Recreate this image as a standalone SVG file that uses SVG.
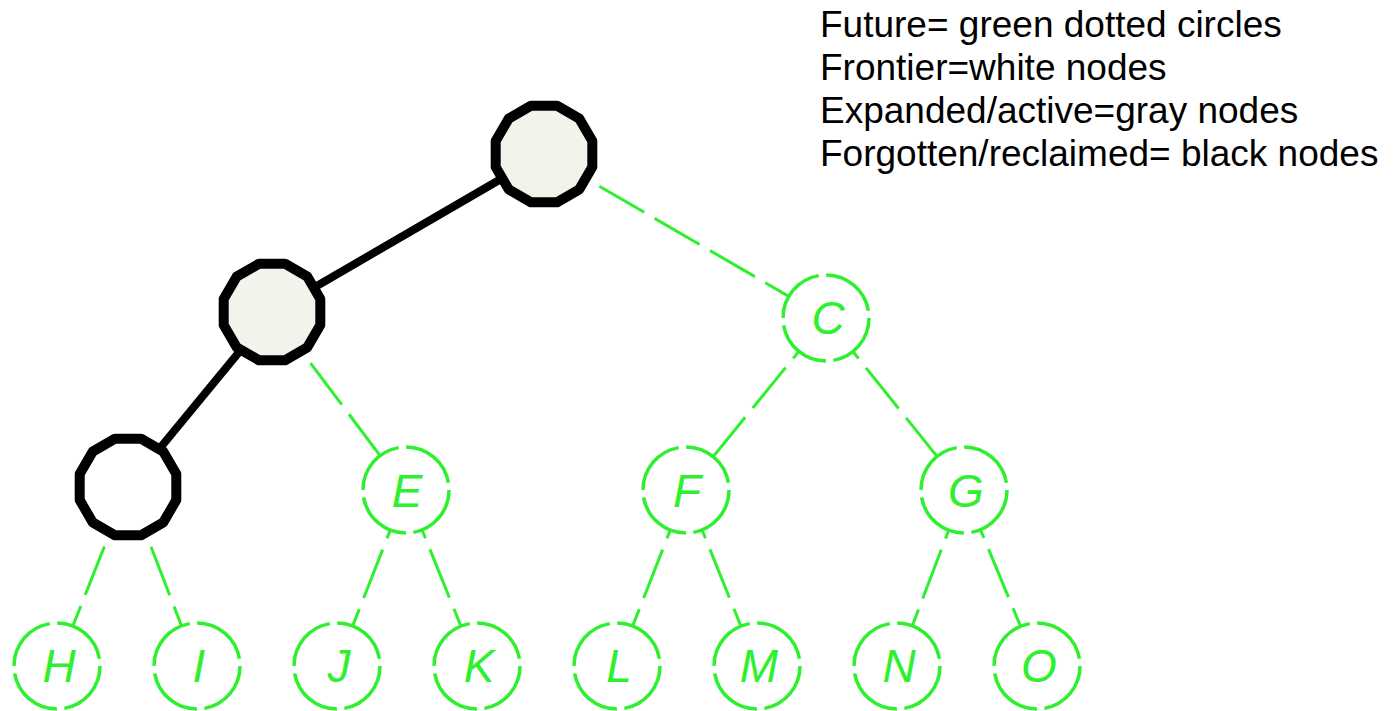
<svg xmlns="http://www.w3.org/2000/svg" xmlns:xlink="http://www.w3.org/1999/xlink" width="1400" height="711" viewBox="0 0 1400 711">
<style>
.ge{stroke:#2ef02e;stroke-width:3;stroke-dasharray:52 12;fill:none}
.be{stroke:#000;stroke-width:8;fill:none;stroke-linecap:butt}
.gc{fill:#fff;stroke:#2ef02e;stroke-width:3.5;stroke-dasharray:60 7.5}
.gl{font-family:"Liberation Sans",Arial,sans-serif;font-size:46px;font-style:italic;fill:#2ef02e;text-anchor:middle}
.bn{stroke:#000;stroke-width:10;stroke-linejoin:round}
.lg{font-family:"Liberation Sans",Arial,sans-serif;font-size:37px;fill:#000}
</style>
<defs>
<polygon id="dodec" points="48.30,12.94 35.36,35.36 12.94,48.30 -12.94,48.30 -35.36,35.36 -48.30,12.94 -48.30,-12.94 -35.36,-35.36 -12.94,-48.30 12.94,-48.30 35.36,-35.36 48.30,-12.94"/>
</defs>
<rect width="1400" height="711" fill="#fff"/>
<g id="connectors">
<line class="ge" x1="544" y1="154" x2="272" y2="312"/>
<line class="ge" x1="544" y1="154" x2="826" y2="318"/>
<line class="ge" x1="272" y1="312" x2="128" y2="487"/>
<line class="ge" x1="272" y1="312" x2="406" y2="490"/>
<line class="ge" x1="826" y1="318" x2="686" y2="490"/>
<line class="ge" x1="826" y1="318" x2="964" y2="490"/>
<line class="ge" x1="128" y1="487" x2="57" y2="666"/>
<line class="ge" x1="128" y1="487" x2="197" y2="666"/>
<line class="ge" x1="406" y1="490" x2="337" y2="666"/>
<line class="ge" x1="406" y1="490" x2="477" y2="666"/>
<line class="ge" x1="686" y1="490" x2="617" y2="666"/>
<line class="ge" x1="686" y1="490" x2="757" y2="666"/>
<line class="ge" x1="964" y1="490" x2="897" y2="666"/>
<line class="ge" x1="964" y1="490" x2="1037" y2="666"/>
<line class="be" x1="544" y1="154" x2="272" y2="312"/>
<line class="be" x1="272" y1="312" x2="128" y2="487"/>
</g>
<g id="node-A"><use xlink:href="#dodec" class="bn" fill="#f3f3ec" transform="translate(544,154)"/></g>
<g id="node-B"><use xlink:href="#dodec" class="bn" fill="#f3f3ec" transform="translate(272,312)"/></g>
<g id="node-D"><use xlink:href="#dodec" class="bn" fill="#fff" transform="translate(128,487)"/></g>
<g id="node-C"><circle class="gc" cx="826" cy="318" r="43"/><text class="gl" x="828" y="334">C</text></g>
<g id="node-E"><circle class="gc" cx="406" cy="490" r="43"/><text class="gl" x="407" y="507">E</text></g>
<g id="node-F"><circle class="gc" cx="686" cy="490" r="43"/><text class="gl" x="687" y="507">F</text></g>
<g id="node-G"><circle class="gc" cx="964" cy="490" r="43"/><text class="gl" x="966" y="507">G</text></g>
<g id="node-H"><circle class="gc" cx="57" cy="666" r="43"/><text class="gl" x="59" y="682">H</text></g>
<g id="node-I"><circle class="gc" cx="197" cy="666" r="43"/><text class="gl" x="199" y="682">I</text></g>
<g id="node-J"><circle class="gc" cx="337" cy="666" r="43"/><text class="gl" x="339" y="682">J</text></g>
<g id="node-K"><circle class="gc" cx="477" cy="666" r="43"/><text class="gl" x="479" y="682">K</text></g>
<g id="node-L"><circle class="gc" cx="617" cy="666" r="43"/><text class="gl" x="619" y="682">L</text></g>
<g id="node-M"><circle class="gc" cx="757" cy="666" r="43"/><text class="gl" x="759" y="682">M</text></g>
<g id="node-N"><circle class="gc" cx="897" cy="666" r="43"/><text class="gl" x="899" y="682">N</text></g>
<g id="node-O"><circle class="gc" cx="1037" cy="666" r="43"/><text class="gl" x="1039" y="682">O</text></g>
<g id="legend">
<text class="lg" x="820" y="37">Future= green dotted circles</text>
<text class="lg" x="820" y="80">Frontier=white nodes</text>
<text class="lg" x="820" y="123">Expanded/active=gray nodes</text>
<text class="lg" x="820" y="166">Forgotten/reclaimed= black nodes</text>
</g>
</svg>
